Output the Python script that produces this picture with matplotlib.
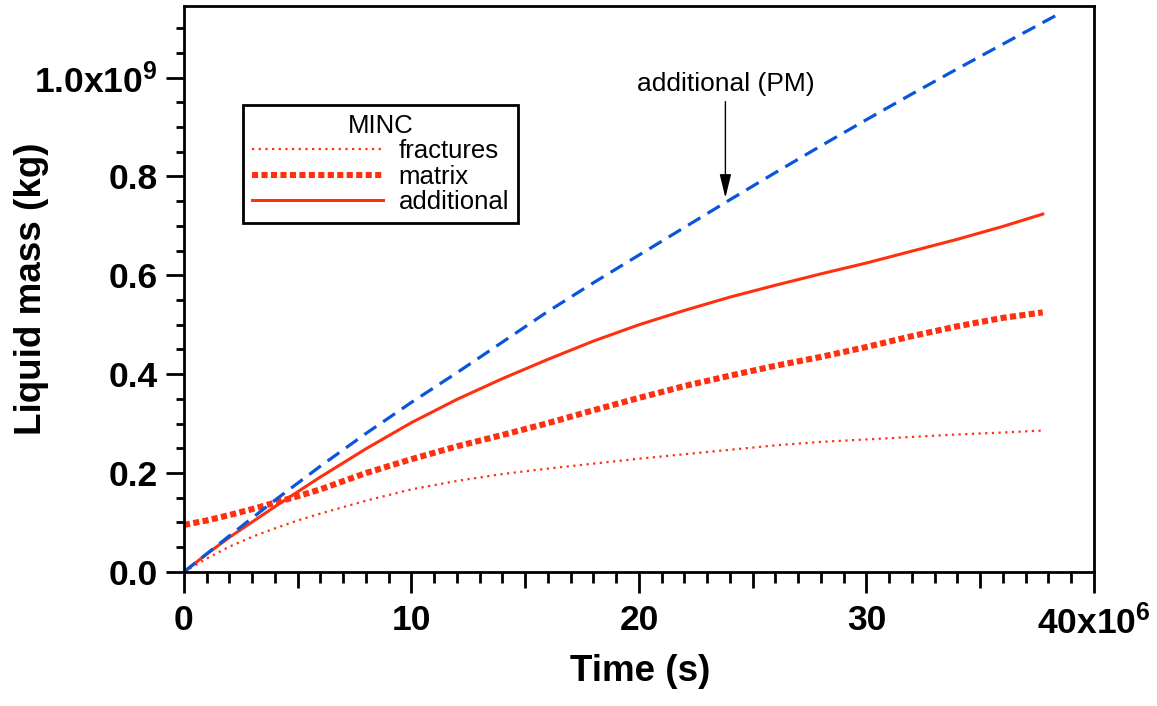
import matplotlib
matplotlib.use('Agg')
from matplotlib import pyplot as plt
from matplotlib.ticker import FixedLocator
import numpy as np

plt.rcParams['font.family'] = ['Liberation Sans', 'DejaVu Sans']
plt.rcParams['mathtext.fontset'] = 'custom'
plt.rcParams['mathtext.rm'] = 'Liberation Sans'
plt.rcParams['mathtext.bf'] = 'Liberation Sans:bold'
plt.rcParams['mathtext.default'] = 'bf'

# time in units of 1e6 s, liquid mass in units of 1e9 kg
time_minc = [0, 1, 2, 3, 4, 5, 6, 8, 10, 12, 14, 16, 18, 20, 22, 24, 26, 28, 30, 32, 34, 36, 37.75]
fractures = [0, 0.027, 0.051, 0.071, 0.088, 0.104, 0.118, 0.144, 0.167, 0.184, 0.198, 0.209, 0.219,
             0.229, 0.238, 0.247, 0.256, 0.263, 0.268, 0.273, 0.278, 0.282, 0.286]
matrix = [0.095, 0.104, 0.115, 0.127, 0.140, 0.153, 0.167, 0.200, 0.228, 0.254, 0.277, 0.301, 0.327,
          0.352, 0.376, 0.397, 0.417, 0.435, 0.455, 0.477, 0.497, 0.514, 0.525]
additional = [0, 0.036, 0.070, 0.101, 0.132, 0.162, 0.192, 0.249, 0.302, 0.349, 0.391, 0.430, 0.467,
              0.500, 0.529, 0.556, 0.580, 0.603, 0.625, 0.649, 0.673, 0.699, 0.724]

time_pm = [0, 2, 4, 6, 8, 10, 12, 14, 16, 18, 20, 22, 24, 26, 28, 30, 32, 34, 36, 38.5]
additional_pm = [0, 0.073, 0.145, 0.214, 0.280, 0.343, 0.403, 0.465, 0.527, 0.585, 0.641, 0.697,
                 0.753, 0.808, 0.862, 0.915, 0.967, 1.018, 1.068, 1.130]

x_ticks = [0, 10, 20, 30, 40]
x_tick_labels = ['0', '10', '20', '30', '40x10$^{6}$']
y_ticks = [0, 0.2, 0.4, 0.6, 0.8, 1.0]
y_tick_labels = ['0.0', '0.2', '0.4', '0.6', '0.8', '1.0x10$^{9}$']

red = '#ff3010'
blue = '#0a55dd'

fig = plt.figure(figsize=(11.57, 7.06), dpi=100)
ax = fig.add_axes([0.159, 0.19, 0.7865, 0.8015])

t = np.array(time_minc) * 1e6
ax.plot(t, np.array(fractures) * 1e9, color=red, lw=1.6, linestyle=(0, (1, 2.0)),
        dash_capstyle='butt', label='fractures')
ax.plot(t, np.array(matrix) * 1e9, color=red, lw=4.4, linestyle=(0, (1, 0.55)),
        dash_capstyle='butt', label='matrix')
ax.plot(t, np.array(additional) * 1e9, color=red, lw=2.2, label='additional')
ax.plot(np.array(time_pm) * 1e6, np.array(additional_pm) * 1e9, color=blue, lw=2.3,
        linestyle=(0, (4.5, 2.6)), dash_capstyle='butt')

ax.set_xlim(0, 40e6)
ax.set_ylim(0, 1.145e9)

ax.set_xticks([v * 1e6 for v in x_ticks])
ax.set_xticklabels(x_tick_labels)
minor_x = [v * 1e6 for v in range(1, 40) if v % 10 != 0]
ax.xaxis.set_minor_locator(FixedLocator(minor_x))
ax.set_yticks([v * 1e9 for v in y_ticks])
ax.set_yticklabels(y_tick_labels)
minor_y = [v * 0.05e9 for v in range(1, 23) if v % 4 != 0]
ax.yaxis.set_minor_locator(FixedLocator(minor_y))

ax.tick_params(axis='both', which='major', direction='out', width=2, labelsize=25.5, top=False, right=False)
ax.tick_params(axis='x', which='major', length=15, pad=8)
ax.tick_params(axis='y', which='major', length=13, pad=6)
ax.tick_params(axis='x', which='minor', direction='out', length=8, width=2, top=False)
ax.tick_params(axis='y', which='minor', direction='out', length=6, width=2, right=False)
for lab in ax.get_xticklabels() + ax.get_yticklabels():
    lab.set_fontweight('bold')

# longer minor ticks at the half-decades
for tick, loc in zip(ax.xaxis.get_minor_ticks(), minor_x):
    if round(loc / 1e6) % 5 == 0:
        tick.tick1line.set_markersize(11.5)

for sp in ax.spines.values():
    sp.set_linewidth(2)

ax.set_xlabel('Time (s)', fontsize=26.5, fontweight='bold')
ax.set_ylabel('Liquid mass (kg)', fontsize=26.5, fontweight='bold')
ax.xaxis.set_label_coords(0.501, -0.146)
ax.yaxis.set_label_coords(-0.148, 0.5)

ax.annotate('additional (PM)', xy=(23.8e6, 0.757e9), xytext=(23.8e6, 0.987e9),
            fontsize=19, ha='center', va='center',
            arrowprops=dict(arrowstyle='-|>,head_length=0.9,head_width=0.22', color='black',
                            lw=1, shrinkA=2, shrinkB=0, mutation_scale=16))

leg = ax.legend(title='MINC', loc='upper left', bbox_to_anchor=(0.0648, 0.825),
                borderaxespad=0, fontsize=18.5, title_fontsize=18.5, handlelength=5.1,
                handletextpad=0.6, labelspacing=0.05, fancybox=False, framealpha=1,
                edgecolor='black', borderpad=0.35)
leg.get_frame().set_linewidth(2)

fig.savefig('out.png', dpi=100)
